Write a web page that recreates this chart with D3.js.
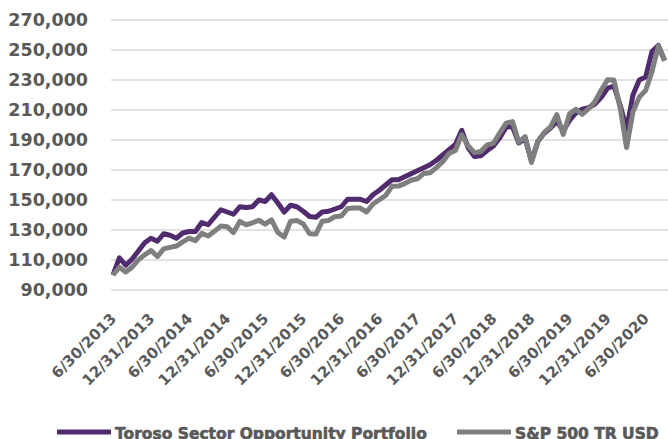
<!DOCTYPE html>
<html>
<head>
<meta charset="utf-8">
<script src="https://cdn.jsdelivr.net/npm/d3@7"></script>
<style>
  body { margin: 0; background: #fff; }
  svg { display: block; font-family: "DejaVu Sans", Verdana, sans-serif; font-weight: bold; }
</style>
</head>
<body>
<div id="chart"></div>
<script>
// month-end values, 6/30/2013 .. 9/30/2020 (in thousands)
var toroso = [100, 111.5, 106.5, 110.5, 116, 121.5, 124.5, 122.5, 127.5, 126.5, 124.5, 128,
  129, 129, 135, 133.5, 138.5, 143.5, 142, 140.5, 145.5, 145, 145.5, 150,
  149, 153.5, 148, 142, 146.5, 145.5, 142.5, 139, 138.5, 142, 142.5, 144,
  145.5, 150.5, 150.5, 150.5, 149, 153.5, 156.5, 160, 163.5, 163.5, 165.5, 167.5,
  169.5, 171.5, 173.5, 176.5, 180, 183.5, 187, 196.5, 185, 179, 179.5, 183,
  186, 191.5, 198.5, 199, 188, 191, 176, 189, 194.5, 198, 202.5, 196,
  203, 208, 210.5, 211.5, 214, 218.5, 224.5, 226, 213, 197, 220, 230,
  232, 249, 253, 243];
var sp500 = [100, 105.1, 102, 105.2, 110.1, 113.4, 116.3, 112.3, 117.4, 118.4, 119.3, 122.1,
  124.6, 122.9, 127.8, 126, 129.1, 132.6, 132.2, 128.3, 135.7, 133.5, 134.8, 136.5,
  133.9, 136.7, 128.4, 125.3, 135.8, 136.3, 134.1, 127.5, 127.3, 135.9, 136.4, 138.9,
  139.3, 144.4, 144.6, 144.6, 142, 147.3, 150.2, 153, 159.1, 159.3, 160.9, 163.2,
  164.2, 167.6, 168.1, 171.6, 175.6, 181, 183, 193.5, 186.3, 181.6, 182.3, 186.7,
  187.8, 194.8, 201.2, 202.3, 188.5, 192.3, 175, 189, 195, 198.8, 206.9, 193.7,
  207.4, 210.4, 207.1, 210.9, 215.5, 223.3, 230.1, 230, 211.1, 185, 208.7, 218.6,
  223, 235.6, 252.5, 242.9];
var tickLabels = ["6/30/2013", "12/31/2013", "6/30/2014", "12/31/2014", "6/30/2015",
  "12/31/2015", "6/30/2016", "12/31/2016", "6/30/2017", "12/31/2017", "6/30/2018",
  "12/31/2018", "6/30/2019", "12/31/2019", "6/30/2020"];
var yTicks = [90000, 110000, 130000, 150000, 170000, 190000, 210000, 230000, 250000, 270000];
var seriesNames = ["Toroso Sector Opportunity Portfolio", "S&P 500 TR USD"];

var width = 668, height = 439;
var purple = "#502c6f", grey = "#7f7f7f", text = "#595959";

var svg = d3.select("#chart").append("svg")
  .attr("width", width)
  .attr("height", height);

// x: one step per month
var x = d3.scaleLinear().domain([0, 86]).range([113, 658.3]);
var y = d3.scaleLinear().domain([90000, 270000]).range([290, 20]);

// gridlines
svg.append("g")
  .selectAll("line")
  .data(yTicks)
  .enter().append("line")
    .attr("x1", 111)
    .attr("x2", width)
    .attr("y1", function(d) { return y(d); })
    .attr("y2", function(d) { return y(d); })
    .attr("stroke", "#d9d9d9")
    .attr("stroke-width", 1.5);

// y labels
var yAxis = svg.append("g")
  .attr("transform", "translate(88,0)")
  .call(d3.axisLeft(y).tickValues(yTicks).tickSize(0).tickPadding(0)
    .tickFormat(d3.format(",")));
yAxis.select(".domain").remove();
yAxis.selectAll("text")
  .attr("fill", text)
  .style("font-size", "17.5px")
  .style("font-family", "DejaVu Sans")
  .style("font-weight", "bold");

// x labels, every 6 months
var xAxis = svg.append("g")
  .attr("transform", "translate(0,305)")
  .call(d3.axisBottom(x)
    .tickValues(tickLabels.map(function(d, i) { return i * 6; }))
    .tickSize(0).tickPadding(0)
    .tickFormat(function(d) { return tickLabels[d / 6]; }));
xAxis.select(".domain").remove();
xAxis.selectAll("text")
  .attr("fill", text)
  .attr("text-anchor", "end")
  .attr("dy", "0.35em")
  .attr("y", 0)
  .attr("transform", "translate(0,11) rotate(-45)")
  .style("font-size", "15px")
  .style("font-family", "DejaVu Sans")
  .style("font-weight", "bold");

var valueline = d3.line()
  .x(function(d, i) { return x(i); })
  .y(function(d) { return y(d * 1000); });

svg.append("path")
  .datum(toroso)
  .attr("fill", "none")
  .attr("stroke", purple)
  .attr("stroke-width", 5)
  .attr("stroke-linejoin", "round")
  .attr("d", valueline);

svg.append("path")
  .datum(sp500)
  .attr("fill", "none")
  .attr("stroke", grey)
  .attr("stroke-width", 5)
  .attr("stroke-linejoin", "round")
  .attr("d", valueline);

// legend
var legend = [
  { name: seriesNames[0], color: purple, x: 57 },
  { name: seriesNames[1], color: grey, x: 457 }
];
var lg = svg.append("g").selectAll("g")
  .data(legend)
  .enter().append("g")
    .attr("transform", function(d) { return "translate(" + d.x + ",432)"; });
lg.append("line")
  .attr("x1", 0).attr("x2", 54)
  .attr("stroke", function(d) { return d.color; })
  .attr("stroke-width", 5);
lg.append("text")
  .attr("x", 58)
  .attr("y", 7)
  .attr("fill", text)
  .attr("stroke", text)
  .attr("stroke-width", 0.6)
  .style("font-size", "15.5px")
  .text(function(d) { return d.name; });
</script>
</body>
</html>
